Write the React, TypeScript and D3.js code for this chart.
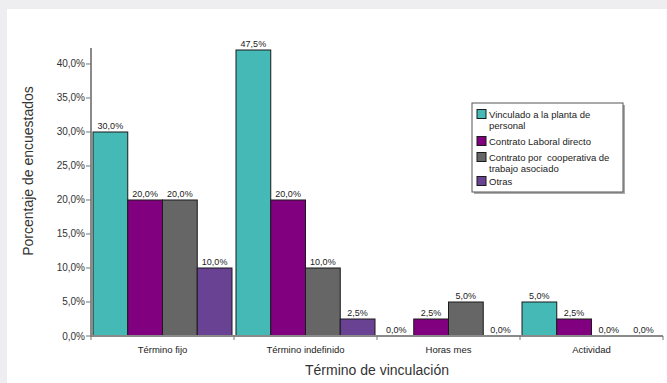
import React from "react";
import * as d3 from "d3";

const categories = ["Término fijo", "Término indefinido", "Horas mes", "Actividad"];
const seriesNames = [
  ["Vinculado a la planta de", "personal"],
  ["Contrato Laboral directo"],
  ["Contrato por  cooperativa de", "trabajo asociado"],
  ["Otras"],
];
const vinculadoPlanta = [30.0, 47.5, 0.0, 5.0];
const contratoLaboral = [20.0, 20.0, 2.5, 2.5];
const contratoCooperativa = [20.0, 10.0, 5.0, 0.0];
const otras = [10.0, 2.5, 0.0, 0.0];
const seriesValues = [vinculadoPlanta, contratoLaboral, contratoCooperativa, otras];
const seriesColors = ["#45B9B6", "#800080", "#666666", "#6A4293"];
const yTicks = [0, 5, 10, 15, 20, 25, 30, 35, 40];

const W = 667;
const H = 383;
const fmt = (v: number) => v.toFixed(1).replace(".", ",") + "%";
const FONT = "'Liberation Sans', Arial, sans-serif";

export default function App() {
  const plotLeft = 91;
  const plotRight = 663;
  const plotTop = 48;
  const plotBottom = 336;

  const y = d3.scaleLinear().domain([0, 42.35]).range([plotBottom, plotTop]);
  const x0 = d3.scaleBand<string>().domain(categories).range([plotLeft, plotRight]).padding(0);
  const x1 = d3
    .scaleBand<number>()
    .domain(d3.range(seriesValues.length))
    .range([2, x0.bandwidth() - 2])
    .padding(0);

  // bars taller than the axis are clipped at the top of the plot area
  const barTop = (v: number) => Math.max(y(v), plotTop + 2);

  return (
    <svg
      width={W}
      height={H}
      style={{ position: "absolute", left: 0, top: 0, fontFamily: FONT }}
    >
      <rect x={0} y={0} width={W} height={H} fill="#eeeef1" />
      <rect x={7} y={9} width={W - 7} height={H - 9} fill="#ffffff" />

      {/* bars */}
      {categories.map((c, ci) => (
        <g key={c} transform={`translate(${x0(c)},0)`}>
          {seriesValues.map((vals, si) => {
            const v = vals[ci];
            const bx = x1(si)!;
            const top = barTop(v);
            return (
              <g key={si}>
                {v > 0 && (
                  <rect
                    x={bx}
                    y={top}
                    width={x1.bandwidth()}
                    height={plotBottom - top}
                    fill={seriesColors[si]}
                    stroke="#1a1a1a"
                    strokeWidth={1}
                  />
                )}
                <text
                  x={bx + x1.bandwidth() / 2}
                  y={top - 3}
                  textAnchor="middle"
                  fontSize={9}
                  fill="#222"
                >
                  {fmt(v)}
                </text>
              </g>
            );
          })}
        </g>
      ))}

      {/* y axis */}
      <line x1={plotLeft} x2={plotLeft} y1={plotTop} y2={plotBottom + 1} stroke="#8a8a8a" strokeWidth={2} />
      {yTicks.map((t) => (
        <g key={t}>
          <line x1={plotLeft - 5} x2={plotLeft} y1={y(t)} y2={y(t)} stroke="#777" strokeWidth={1} />
          <text x={plotLeft - 6} y={y(t) + 3.5} textAnchor="end" fontSize={10} fill="#333">
            {fmt(t)}
          </text>
        </g>
      ))}

      {/* x axis */}
      <line x1={plotLeft} x2={plotRight} y1={plotBottom} y2={plotBottom} stroke="#8a8a8a" strokeWidth={2} />
      {categories.map((c) => (
        <line
          key={"t" + c}
          x1={x0(c)!}
          x2={x0(c)!}
          y1={plotBottom}
          y2={plotBottom + 4}
          stroke="#777"
          strokeWidth={1}
        />
      ))}
      <line x1={plotRight} x2={plotRight} y1={plotBottom} y2={plotBottom + 4} stroke="#777" />
      {categories.map((c) => (
        <text
          key={"l" + c}
          x={x0(c)! + x0.bandwidth() / 2}
          y={353}
          textAnchor="middle"
          fontSize={9.5}
          fill="#222"
        >
          {c}
        </text>
      ))}

      {/* axis titles */}
      <text x={(plotLeft + plotRight) / 2} y={375} textAnchor="middle" fontSize={14} fill="#333">
        Término de vinculación
      </text>
      <text
        transform={`translate(33,${(plotTop + plotBottom) / 2 - 21}) rotate(-90)`}
        textAnchor="middle"
        fontSize={14}
        fill="#333"
      >
        Porcentaje de encuestados
      </text>

      {/* legend */}
      <g transform="translate(472,103)">
        <rect x={2} y={2} width={151} height={89} fill="#aaa" />
        <rect x={0} y={0} width={151} height={89} fill="#fff" stroke="#555" strokeWidth={1} />
        {seriesNames.map((lines, i) => {
          const rowY = [11, 38, 54, 78][i];
          return (
            <g key={i}>
              <rect
                x={5}
                y={rowY - 4.5}
                width={9}
                height={9}
                fill={seriesColors[i]}
                stroke="#1a1a1a"
                strokeWidth={1}
              />
              {lines.map((ln, li) => (
                <text
                  key={li}
                  x={17}
                  y={rowY + 3.5 + li * 11}
                  fontSize={9.5}
                  fill="#222"
                  style={{ whiteSpace: "pre" }}
                >
                  {ln}
                </text>
              ))}
            </g>
          );
        })}
      </g>
    </svg>
  );
}
